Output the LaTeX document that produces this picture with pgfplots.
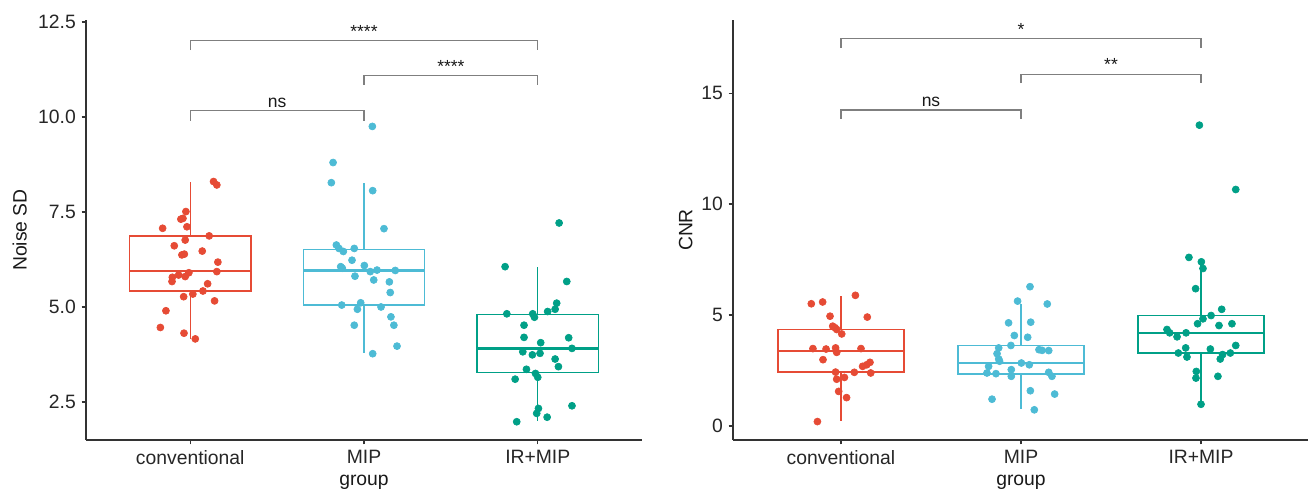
\documentclass[border=0pt]{standalone}
\usepackage{fontspec}
\setmainfont{Liberation Sans}
\usepackage{pgfplots}
\pgfplotsset{compat=1.18}
\usepgfplotslibrary{statistics}

\definecolor{cR}{HTML}{E64B35}
\definecolor{cB}{HTML}{4DBBD5}
\definecolor{cG}{HTML}{00A087}
\definecolor{brk}{HTML}{7F7F7F}

\pgfplotsset{
  panel/.style={
    scale only axis, height=252pt,
    axis x line*=bottom, axis y line*=left,
    axis line style={-, line width=0.9pt, black!80},
    xmin=0.4, xmax=3.6,
    xtick={1,2,3}, xticklabels={conventional, MIP, IR+MIP},
    tick align=outside, major tick length=2.6pt,
    tick style={line width=0.8pt, black!80},
    /pgf/number format/assume math mode=true,
    tick label style={font=\fontsize{11.6}{13}\selectfont, text=black!85},
    label style={font=\fontsize{11.6}{13}\selectfont, text=black!90},
    xlabel={group},
    xlabel style={at={(axis description cs:0.5,-0.1)}, anchor=center},
    boxplot/draw direction=y,
    boxplot/box extend=0.7,
    boxplot/whisker extend=0,
    boxplot/every median/.style={line width=1.45pt},
    clip=false,
  },
  bx/.style={line width=0.8pt, draw=#1, fill=white, solid},
  pts/.style={only marks, mark=*, mark size=2.1pt, color=#1, mark options={draw=#1, fill=#1}},
  br/.style={brk, line width=0.7pt, no marks},
}
\tikzset{sig/.style={anchor=base, font=\fontsize{10.5}{12}\selectfont, text=black!90}}

\begin{document}
\begin{tikzpicture}
\useasboundingbox (0,0) rectangle (784.8pt,294pt);

% left panel: Noise SD
\begin{axis}[panel, at={(51.6pt,30pt)}, anchor=south west, width=333.6pt,
    ymin=1.5, ymax=12.55, ytick={2.5,5,7.5,10,12.5},
    yticklabel style={/pgf/number format/.cd, fixed, fixed zerofill, precision=1},
    ylabel={Noise SD},
    ylabel style={at={(axis description cs:-0.119,0.5)}, anchor=center}]
  \addplot[bx=cR, boxplot prepared={draw position=1, lower whisker=4.16, lower quartile=5.42,
      median=5.95, upper quartile=6.87, upper whisker=8.30}] coordinates {};
  \addplot[bx=cB, boxplot prepared={draw position=2, lower whisker=3.78, lower quartile=5.05,
      median=5.96, upper quartile=6.52, upper whisker=8.27}] coordinates {};
  \addplot[bx=cG, boxplot prepared={draw position=3, lower whisker=2.01, lower quartile=3.28,
      median=3.91, upper quartile=4.81, upper whisker=6.06}] coordinates {};
  \addplot[pts=cR] coordinates {
    (1.134,8.30) (1.153,8.21) (0.975,7.51) (0.946,7.31) (0.958,7.33) (0.841,7.07)
    (0.981,7.11) (1.109,6.87) (0.971,6.76) (0.908,6.61) (1.069,6.47) (0.952,6.37)
    (0.966,6.39) (1.159,6.18) (1.153,5.93) (0.992,5.90) (0.897,5.78) (0.933,5.84)
    (0.971,5.80) (0.895,5.67) (1.100,5.61) (1.073,5.42) (1.015,5.34) (0.962,5.27)
    (1.140,5.16) (0.860,4.90) (0.828,4.46) (0.964,4.31) (1.029,4.16)};
  \addplot[pts=cB] coordinates {
    (2.048,9.75) (1.822,8.80) (1.812,8.27) (2.050,8.06) (2.115,7.06) (1.841,6.63)
    (1.856,6.54) (1.881,6.46) (1.944,6.54) (1.931,6.23) (1.866,6.06) (1.875,6.02)
    (2.002,6.09) (1.948,5.81) (2.036,5.93) (2.075,5.97) (2.180,5.96) (2.056,5.71)
    (2.146,5.66) (2.151,5.38) (1.872,5.05) (1.981,5.11) (1.962,4.94) (2.098,5.00)
    (2.155,4.74) (2.172,4.52) (1.944,4.52) (2.190,3.97) (2.050,3.77)};
  \addplot[pts=cG] coordinates {
    (3.123,7.21) (2.812,6.06) (3.167,5.67) (3.109,5.10) (3.100,4.94) (3.057,4.88)
    (2.822,4.82) (2.971,4.82) (2.981,4.73) (2.921,4.52) (2.921,4.20) (3.178,4.19)
    (3.017,4.06) (3.197,3.91) (2.914,3.82) (2.969,3.74) (3.013,3.78) (3.100,3.63)
    (3.119,3.43) (2.935,3.36) (2.987,3.25) (3.000,3.15) (2.870,3.10) (3.197,2.40)
    (3.004,2.33) (2.994,2.20) (3.054,2.10) (2.879,1.98)};
  % significance brackets
  \addplot[br] coordinates {(1,9.90) (1,10.16) (2,10.16) (2,9.90)};
  \addplot[br] coordinates {(2,10.84) (2,11.08) (3,11.08) (3,10.84)};
  \addplot[br] coordinates {(1,11.76) (1,12.00) (3,12.00) (3,11.76)};
  \node[sig] at (axis cs:1.5,10.26) {ns};
  \node[sig] at (axis cs:2.5,11.18) {****};
  \node[sig] at (axis cs:2,12.10) {****};
\end{axis}

% right panel: CNR
\begin{axis}[panel, at={(439.8pt,30pt)}, anchor=south west, width=345.6pt,
    ymin=-0.63, ymax=18.3, ytick={0,5,10,15},
    ylabel={CNR},
    ylabel style={at={(axis description cs:-0.082,0.5)}, anchor=center}]
  \addplot[bx=cR, boxplot prepared={draw position=1, lower whisker=0.24, lower quartile=2.43,
      median=3.37, upper quartile=4.35, upper whisker=5.86}] coordinates {};
  \addplot[bx=cB, boxplot prepared={draw position=2, lower whisker=0.76, lower quartile=2.34,
      median=2.84, upper quartile=3.63, upper whisker=5.48}] coordinates {};
  \addplot[bx=cG, boxplot prepared={draw position=3, lower whisker=0.98, lower quartile=3.29,
      median=4.20, upper quartile=4.98, upper whisker=7.52}] coordinates {};
  \addplot[pts=cR] coordinates {
    (1.080,5.89) (0.835,5.51) (0.898,5.59) (0.939,4.95) (1.146,4.91) (0.954,4.50)
    (0.967,4.43) (0.976,4.35) (1.004,4.15) (0.844,3.49) (0.917,3.47) (0.970,3.52)
    (0.976,3.32) (1.111,3.49) (0.900,2.99) (1.161,2.87) (1.143,2.76) (1.120,2.69)
    (0.970,2.43) (1.074,2.42) (1.165,2.39) (0.976,2.11) (1.019,2.19) (0.987,1.56)
    (1.031,1.28) (0.869,0.20)};
  \addplot[pts=cB] coordinates {
    (2.050,6.28) (1.981,5.63) (2.146,5.50) (1.931,4.65) (2.054,4.68) (1.963,4.08)
    (2.037,4.00) (1.944,3.63) (1.876,3.52) (1.867,3.26) (1.876,3.02) (1.881,2.92)
    (2.100,3.44) (2.117,3.41) (2.154,3.40) (2.002,2.84) (2.046,2.76) (1.820,2.69)
    (1.811,2.39) (1.861,2.36) (1.946,2.54) (1.946,2.24) (2.154,2.42) (2.172,2.24)
    (2.052,1.59) (2.187,1.44) (1.839,1.21) (2.074,0.73)};
  \addplot[pts=cG] coordinates {
    (2.991,13.56) (3.193,10.66) (2.933,7.60) (3.002,7.40) (3.011,7.10) (2.970,6.19)
    (3.115,5.26) (3.056,4.98) (3.011,4.83) (2.981,4.61) (3.100,4.53) (3.172,4.61)
    (2.811,4.35) (2.826,4.20) (2.867,4.02) (2.917,4.20) (3.193,3.63) (2.915,3.52)
    (3.052,3.47) (2.874,3.29) (2.922,3.11) (3.120,3.22) (3.107,3.02) (3.163,3.29)
    (2.974,2.46) (2.972,2.16) (3.094,2.24) (3.000,0.98)};
  \addplot[br] coordinates {(1,13.84) (1,14.24) (2,14.24) (2,13.84)};
  \addplot[br] coordinates {(2,15.45) (2,15.86) (3,15.86) (3,15.45)};
  \addplot[br] coordinates {(1,17.04) (1,17.45) (3,17.45) (3,17.04)};
  \node[sig] at (axis cs:1.5,14.41) {ns};
  \node[sig] at (axis cs:2.5,16.03) {**};
  \node[sig] at (axis cs:2,17.62) {*};
\end{axis}
\end{tikzpicture}
\end{document}
